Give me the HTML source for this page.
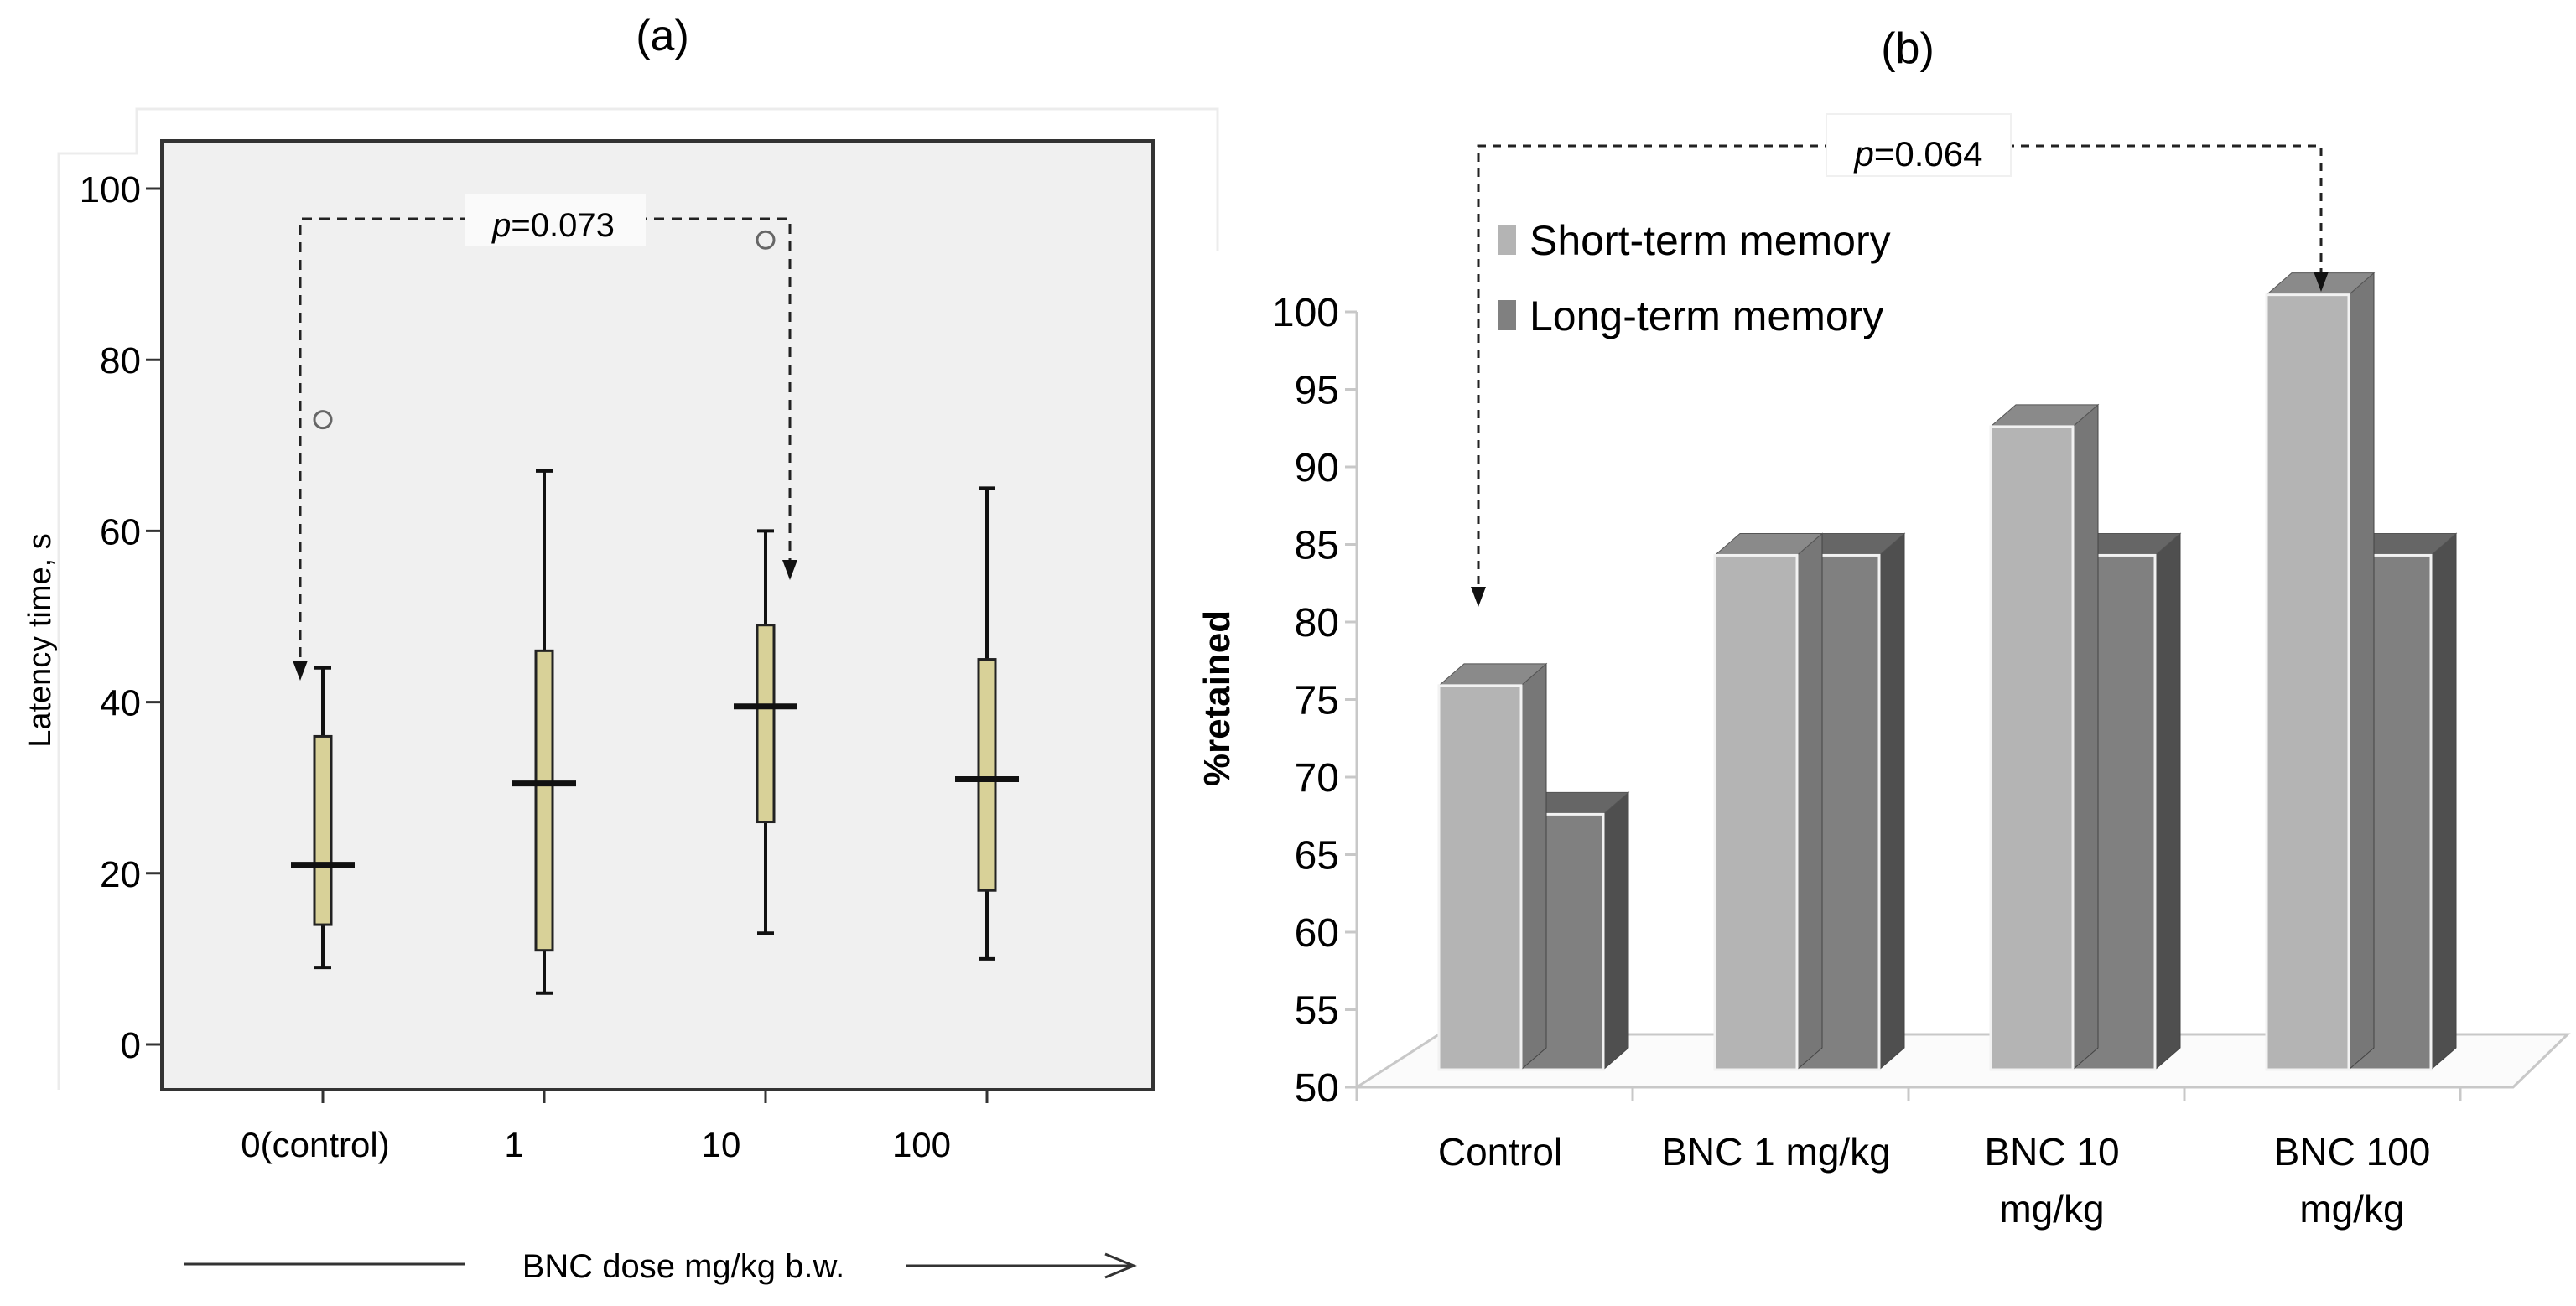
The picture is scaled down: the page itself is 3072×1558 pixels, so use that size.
<!DOCTYPE html>
<html><head><meta charset="utf-8"><style>
html,body{margin:0;padding:0;background:#fff;}
svg{display:block;font-family:"Liberation Sans",sans-serif;}
.nar{font-family:"Liberation Sans Narrow","Liberation Sans",sans-serif;}
</style></head><body>
<svg id="chart" width="3072" height="1558" viewBox="0 0 3072 1558" xmlns="http://www.w3.org/2000/svg">
<g id="pa"></g>
<g id="pb"></g>
</svg>
<script>
// Panel (a) data
const aCats = ["0(control)", "1", "10", "100"];
const aWhiskLo = [9, 6, 13, 10];
const aQ1 = [14, 11, 26, 18];
const aMed = [21, 30.5, 39.5, 31];
const aQ3 = [36, 46, 49, 45];
const aWhiskHi = [44, 67, 60, 65];
const aOutliers = [[0, 73], [2, 94]];
const aTicks = [0, 20, 40, 60, 80, 100];
// Panel (b) data
const bCats = [["Control"], ["BNC 1 mg/kg"], ["BNC 10", "mg/kg"], ["BNC 100", "mg/kg"]];
const bShort = [75.9, 84.3, 92.6, 101.1];
const bLong = [67.6, 84.3, 84.3, 84.3];
const bTicks = [50, 55, 60, 65, 70, 75, 80, 85, 90, 95, 100];

const NS = "http://www.w3.org/2000/svg";
function mk(parent, tag, attrs, text) {
  const el = document.createElementNS(NS, tag);
  for (const k in attrs) el.setAttribute(k, attrs[k]);
  if (text !== undefined) el.textContent = text;
  parent.appendChild(el);
  return el;
}
const pa = document.getElementById('pa');
const pb = document.getElementById('pb');

// ---------- Panel A ----------
const ya = v => 1246 - v * 10.21;
const xa = i => 385 + i * 264;
let e;
e = mk(pa, 'polyline', {points: "70,1300 70,183 163,183 163,130 1452,130 1452,300", fill: "none", stroke: "#ececec", 'stroke-width': 3});


e = mk(pa, 'rect', {x: 193, y: 168, width: 1182, height: 1132, fill: "#f0f0f0", stroke: "#333", 'stroke-width': 4});


e = mk(pa, 'text', {x: 790, y: 60, 'font-size': 52, 'text-anchor': 'middle'}, "(a)");


aTicks.forEach(t => {
  const y = ya(t);
  e = mk(pa, 'line', {x1: 174, x2: 193, y1: y, y2: y, stroke: "#333", 'stroke-width': 3});
  
  
  e = mk(pa, 'text', {x: 168, y: y + 16, 'font-size': 44, 'text-anchor': 'end'}, String(t));
  
  
});
e = mk(pa, 'text', {x: 0, y: 0, 'font-size': 38, 'text-anchor': 'middle', transform: "translate(60,764) rotate(-90)"}, "Latency time, s");


const labX = [376, 613, 860, 1099];
aCats.forEach((c, i) => {
  const x = xa(i);
  e = mk(pa, 'line', {x1: x, x2: x, y1: 1300, y2: 1316, stroke: "#333", 'stroke-width': 3});
  
  
  e = mk(pa, 'text', {x: labX[i], y: 1380, 'font-size': 42, 'text-anchor': 'middle'}, c);
  
  
  e = mk(pa, 'line', {x1: x, x2: x, y1: ya(aWhiskLo[i]), y2: ya(aWhiskHi[i]), stroke: "#111", 'stroke-width': 4});
  
  
  [aWhiskLo[i], aWhiskHi[i]].forEach(v => {
    e = mk(pa, 'line', {x1: x - 10, x2: x + 10, y1: ya(v), y2: ya(v), stroke: "#111", 'stroke-width': 4});
    
    
  });
  e = mk(pa, 'rect', {x: x - 10, y: ya(aQ3[i]), width: 20, height: ya(aQ1[i]) - ya(aQ3[i]), fill: "#d8d198", stroke: "#222", 'stroke-width': 3});
  
  
  e = mk(pa, 'line', {x1: x - 38, x2: x + 38, y1: ya(aMed[i]), y2: ya(aMed[i]), stroke: "#111", 'stroke-width': 7});
  
  
});
aOutliers.forEach(o => {
  e = mk(pa, 'circle', {cx: xa(o[0]), cy: ya(o[1]), r: 10, fill: "none", stroke: "#666", 'stroke-width': 3});
  
  
});
e = mk(pa, 'polyline', {points: "358,805 358,261 942,261 942,685", fill: "none", stroke: "#222", 'stroke-width': 3, 'stroke-dasharray': "12,9"});


e = mk(pa, 'polygon', {points: "349,788 367,788 358,812", fill: "#111"});


e = mk(pa, 'polygon', {points: "933,668 951,668 942,692", fill: "#111"});


e = mk(pa, 'rect', {x: 554, y: 231, width: 216, height: 63, fill: "#fafafa"});


e = mk(pa, 'text', {x: 660, y: 282, 'font-size': 40, 'text-anchor': 'middle'});


mk(e, 'tspan', {'font-style': 'italic'}, "p");
mk(e, 'tspan', {}, "=0.073");
e = mk(pa, 'line', {x1: 220, x2: 555, y1: 1508, y2: 1508, stroke: "#333", 'stroke-width': 3});


e = mk(pa, 'line', {x1: 1080, x2: 1350, y1: 1510, y2: 1510, stroke: "#333", 'stroke-width': 3});


e = mk(pa, 'polyline', {points: "1318,1496 1352,1510 1318,1524", fill: "none", stroke: "#333", 'stroke-width': 3});


e = mk(pa, 'text', {x: 815, y: 1524, 'font-size': 40, 'text-anchor': 'middle'}, "BNC dose mg/kg b.w.");



// ---------- Panel B ----------
const yb = v => 1297 - (v - 50) * 18.5;
const gx = i => 1716 + i * 329;
const BW = 98, DX = 30, DY = -26, BOT = 1276;
e = mk(pb, 'text', {x: 2275, y: 75, 'font-size': 52, 'text-anchor': 'middle'}, "(b)");


e = mk(pb, 'polygon', {points: "1618,1297 1716,1234 3062,1234 2997,1297", fill: "#fbfbfb", stroke: "#c8c8c8", 'stroke-width': 3});


e = mk(pb, 'line', {x1: 1618, x2: 1618, y1: 372, y2: 1297, stroke: "#c8c8c8", 'stroke-width': 3});


bTicks.forEach(t => {
  const y = yb(t);
  e = mk(pb, 'line', {x1: 1604, x2: 1618, y1: y, y2: y, stroke: "#c8c8c8", 'stroke-width': 3});
  
  
  e = mk(pb, 'text', {x: 1597, y: y + 17, 'font-size': 48, 'text-anchor': 'end', class: 'nar'}, String(t));
  
  
});
for (let i = 0; i <= 4; i++) {
  const x = 1618 + i * 329;
  e = mk(pb, 'line', {x1: x, x2: x, y1: 1297, y2: 1314, stroke: "#c8c8c8", 'stroke-width': 3});
  
  
}
e = mk(pb, 'text', {x: 0, y: 0, 'font-size': 44, 'font-weight': 'bold', 'text-anchor': 'middle', transform: "translate(1466,833) rotate(-90)"}, "%retained");


function bar3d(x, v, front, top, side, name) {
  const y = yb(v);
  const g = mk(pb, 'g', {});
  
  
  mk(g, 'polygon', {points: `${x + BW},${y} ${x + BW + DX},${y + DY} ${x + BW + DX},${BOT + DY} ${x + BW},${BOT}`, fill: side, stroke: "#444", 'stroke-width': 1});
  mk(g, 'polygon', {points: `${x},${y} ${x + DX},${y + DY} ${x + BW + DX},${y + DY} ${x + BW},${y}`, fill: top, stroke: "#555", 'stroke-width': 1});
  mk(g, 'rect', {x: x, y: y, width: BW, height: BOT - y, fill: front, stroke: "#f2f2f2", 'stroke-width': 3});
}
bCats.forEach((c, i) => {
  const x = gx(i);
  bar3d(x + BW, bLong[i], "#808080", "#666", "#4f4f4f", 'bar-long-term');
  bar3d(x, bShort[i], "#b4b4b4", "#8a8a8a", "#777", 'bar-short-term');
});
const bLabX = [1789, 2118, 2447, 2805];
bCats.forEach((c, i) => {
  c.forEach((line, j) => {
    e = mk(pb, 'text', {x: bLabX[i], y: 1390 + j * 68, 'font-size': 46, 'text-anchor': 'middle', class: 'nar'}, line);
    
    
  });
});
e = mk(pb, 'rect', {x: 1786, y: 268, width: 22, height: 36, fill: "#b4b4b4"});


e = mk(pb, 'text', {x: 1824, y: 304, 'font-size': 50, class: 'nar'}, "Short-term memory");


e = mk(pb, 'rect', {x: 1786, y: 358, width: 22, height: 36, fill: "#808080"});


e = mk(pb, 'text', {x: 1824, y: 394, 'font-size': 50, class: 'nar'}, "Long-term memory");


e = mk(pb, 'polyline', {points: "1763,715 1763,174 2768,174 2768,338", fill: "none", stroke: "#222", 'stroke-width': 3, 'stroke-dasharray': "10,8"});


e = mk(pb, 'polygon', {points: "1754,700 1772,700 1763,724", fill: "#111"});


e = mk(pb, 'polygon', {points: "2759,324 2777,324 2768,348", fill: "#111"});


e = mk(pb, 'rect', {x: 2178, y: 136, width: 220, height: 74, fill: "#fff", stroke: "#f0f0f0", 'stroke-width': 2});


e = mk(pb, 'text', {x: 2288, y: 198, 'font-size': 42, 'text-anchor': 'middle', class: 'nar'});


mk(e, 'tspan', {'font-style': 'italic'}, "p");
mk(e, 'tspan', {}, "=0.064");
</script>
</body></html>
